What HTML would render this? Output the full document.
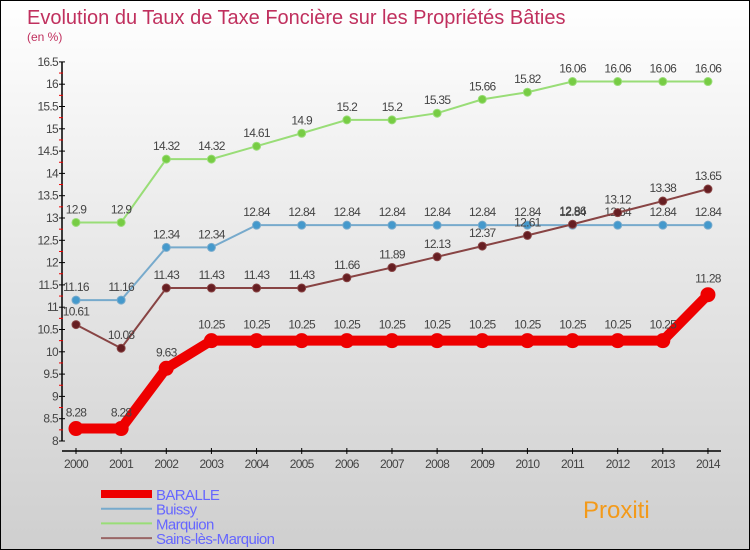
<!DOCTYPE html>
<html><head><meta charset="utf-8"><style>
body{margin:0}
#c{width:750px;height:550px;position:relative;overflow:hidden;box-sizing:border-box;border:1px solid #000;background:linear-gradient(#ffffff,#e6e6e6 50%,#cfcfcf);font-family:"Liberation Sans",sans-serif}
</style></head><body>
<div id="c">
<svg id="s" width="750" height="550" style="position:absolute;left:0;top:0">
<text x="26" y="23" font-size="20" fill="#c0305e">Evolution du Taux de Taxe Foncière sur les Propriétés Bâties</text>
<text x="26" y="40" font-size="12" fill="#c0305e">(en %)</text>
</svg>
</div>
<script>
const years=[2000,2001,2002,2003,2004,2005,2006,2007,2008,2009,2010,2011,2012,2013,2014];
const baralle=[8.28,8.28,9.63,10.25,10.25,10.25,10.25,10.25,10.25,10.25,10.25,10.25,10.25,10.25,11.28];
const buissy=[11.16,11.16,12.34,12.34,12.84,12.84,12.84,12.84,12.84,12.84,12.84,12.84,12.84,12.84,12.84];
const marquion=[12.9,12.9,14.32,14.32,14.61,14.9,15.2,15.2,15.35,15.66,15.82,16.06,16.06,16.06,16.06];
const sains=[10.61,10.08,11.43,11.43,11.43,11.43,11.66,11.89,12.13,12.37,12.61,12.86,13.12,13.38,13.65];
const yTicks=[8,8.5,9,9.5,10,10.5,11,11.5,12,12.5,13,13.5,14,14.5,15,15.5,16,16.5];
const NS="http://www.w3.org/2000/svg";
const s=document.getElementById('s');
const X=i=>75+i*45.14;
const Y=v=>440-(v-8)*44.6;
function el(t,a,p){const e=document.createElementNS(NS,t);for(const k in a)e.setAttribute(k,a[k]);(p||s).appendChild(e);return e;}
const ya=el('line',{x1:61,y1:Y(16.5),x2:61,y2:Y(8),stroke:'#000','stroke-width':1.5});


const xa=el('line',{x1:61,y1:450,x2:720,y2:450,stroke:'#000','stroke-width':1.5});


yTicks.forEach(v=>{
 el('line',{x1:58,x2:64,y1:Y(v),y2:Y(v),stroke:'#000'});
 if(v<16.5) el('line',{x1:58,x2:62,y1:Y(v+0.25),y2:Y(v+0.25),stroke:'#e00'});
 const t=el('text',{x:57,y:Y(v)+4,'font-size':12,fill:'#444','text-anchor':'end','letter-spacing':'-0.7'});
 t.textContent=v;
 
 
});
years.forEach((y,i)=>{
 el('line',{x1:X(i),x2:X(i),y1:447,y2:453,stroke:'#000'});
 const t=el('text',{x:X(i),y:467,'font-size':12,fill:'#444','text-anchor':'middle','letter-spacing':'-0.7'});
 t.textContent=y;
 
 
});
function series(data,col,dot,w,r,name){
 const g=el('g',{});
 
 
 el('polyline',{points:data.map((v,i)=>X(i)+','+Y(v)).join(' '),fill:'none',stroke:col,'stroke-width':w},g);
 data.forEach((v,i)=>{
  const c=el('circle',{cx:X(i),cy:Y(v),r:r,fill:dot,stroke:col},g);
  
  
  const t=el('text',{x:X(i),y:Y(v)-9-(r>5?3:0),'font-size':12,fill:'#444','text-anchor':'middle','letter-spacing':'-0.7'},g);
  t.textContent=v;
  
  
 });
}
series(marquion,'#99dd77','#77cc44',2,4,'marquion');
series(buissy,'#77aacc','#4499cc',2,4,'buissy');
series(sains,'#884444','#661e22',2,4,'sains');
series(baralle,'#ee0000','#ee0000',10,7,'baralle');
const leg=[['BARALLE','#ee0000',8],['Buissy','#77aacc',2],['Marquion','#99dd77',2],['Sains-lès-Marquion','#996666',2]];
leg.forEach((l,i)=>{
 const y=493+i*14.7;
 const g=el('g',{});
 
 
 el('line',{x1:100,x2:151,y1:y,y2:y,stroke:l[1],'stroke-width':l[2]},g);
 const t=el('text',{x:155,y:y+6,'font-size':15,fill:'#6666ff','letter-spacing':'-0.6'},g);
 t.textContent=l[0];
});
const p=el('text',{x:582,y:517,'font-size':24,fill:'#f39a1a'});
p.textContent='Proxiti';


</script>
</body></html>
